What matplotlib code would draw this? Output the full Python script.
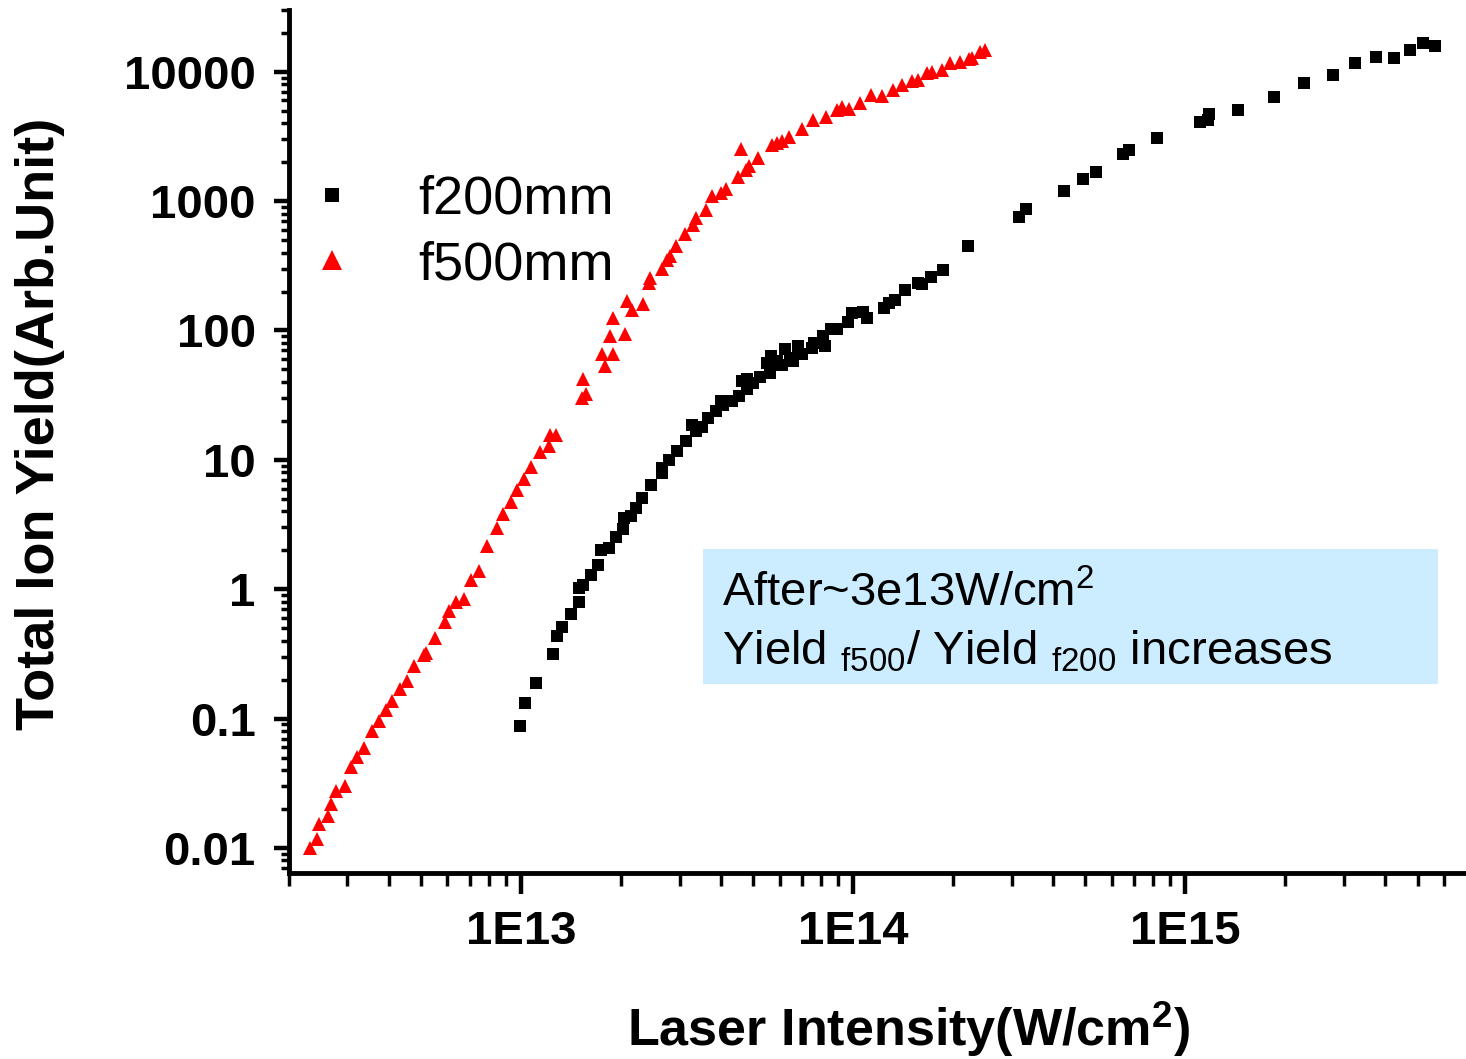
import matplotlib
matplotlib.use('Agg')
import matplotlib.pyplot as plt
from matplotlib.ticker import LogLocator, FixedLocator, FuncFormatter, NullFormatter
from matplotlib.lines import Line2D
from matplotlib.patches import Rectangle
import numpy as np

plt.rcParams['font.family'] = ['Liberation Sans', 'DejaVu Sans']
plt.rcParams['mathtext.fontset'] = 'custom'
plt.rcParams['mathtext.rm'] = 'Liberation Sans'
plt.rcParams['mathtext.bf'] = 'Liberation Sans:bold'
plt.rcParams['mathtext.it'] = 'Liberation Sans:italic'

# f500mm focus (red triangles), intensity in W/cm^2
f500_intensity = [2.31e12, 2.43e12, 2.47e12, 2.62e12, 2.67e12, 2.78e12, 2.94e12, 3.08e12, 3.20e12, 3.36e12,
                  3.56e12, 3.72e12, 3.92e12, 4.08e12, 4.31e12, 4.52e12, 4.77e12, 5.11e12, 5.17e12, 5.51e12,
                  5.90e12, 6.07e12, 6.36e12, 6.74e12, 7.06e12, 7.48e12, 7.89e12, 8.45e12, 8.83e12, 9.31e12,
                  9.71e12, 1.02e13, 1.07e13, 1.14e13, 1.21e13, 1.22e13, 1.27e13, 1.52e13, 1.57e13, 1.54e13,
                  1.79e13, 1.75e13, 1.89e13, 1.85e13, 2.06e13, 1.89e13, 2.09e13, 2.15e13, 2.32e13, 2.44e13,
                  2.43e13, 2.66e13, 2.75e13, 2.80e13, 2.92e13, 3.11e13, 3.29e13, 3.35e13, 3.59e13, 3.75e13,
                  3.99e13, 4.15e13, 4.49e13, 4.60e13, 4.74e13, 4.87e13, 5.16e13, 5.70e13, 5.90e13, 6.11e13,
                  6.40e13, 7.02e13, 7.55e13, 8.28e13, 8.94e13, 9.26e13, 9.74e13, 1.05e14, 1.13e14, 1.22e14,
                  1.32e14, 1.40e14, 1.50e14, 1.57e14, 1.67e14, 1.73e14, 1.85e14, 1.96e14, 2.10e14, 2.23e14,
                  2.28e14, 2.41e14, 2.50e14]
f500_yield = [0.0100, 0.0118, 0.0153, 0.0176, 0.0219, 0.0277, 0.0300, 0.0420, 0.0501, 0.0589,
              0.0805, 0.0962, 0.117, 0.137, 0.169, 0.196, 0.253, 0.309, 0.324, 0.416,
              0.559, 0.679, 0.798, 0.847, 1.18, 1.38, 2.16, 2.99, 3.79, 4.75,
              5.81, 7.07, 8.80, 11.4, 12.8, 15.5, 15.5, 30.2, 32.1, 42.4,
              53.0, 65.3, 65.3, 90.3, 94.4, 124, 168, 145, 159, 255,
              233, 296, 353, 375, 448, 561, 659, 741, 859, 1103,
              1157, 1249, 1538, 2530, 1751, 1857, 2156, 2731, 2814, 2896,
              3132, 3629, 4260, 4437, 5088, 5338, 5179, 5731, 6561, 6446,
              7261, 7938, 8415, 8566, 9772, 9876, 10362, 11670, 11881, 12535,
              12757, 14093, 14603]

# f200mm focus (black squares)
f200_intensity = [9.91e12, 1.03e13, 1.11e13, 1.25e13, 1.28e13, 1.33e13, 1.41e13, 1.49e13, 1.49e13, 1.54e13,
                  1.62e13, 1.70e13, 1.74e13, 1.84e13, 1.93e13, 2.02e13, 2.04e13, 2.14e13, 2.21e13, 2.31e13,
                  2.46e13, 2.65e13, 2.66e13, 2.79e13, 2.95e13, 3.14e13, 3.28e13, 3.37e13, 3.50e13, 3.66e13,
                  3.85e13, 3.99e13, 4.05e13, 4.32e13, 4.53e13, 4.63e13, 4.79e13, 4.79e13, 4.99e13, 5.22e13,
                  5.51e13, 5.64e13, 5.60e13, 5.90e13, 6.11e13, 6.25e13, 6.47e13, 6.58e13, 6.82e13, 7.02e13,
                  7.52e13, 7.61e13, 8.09e13, 8.21e13, 8.54e13, 8.94e13, 9.65e13, 9.92e13, 1.07e14, 1.10e14,
                  1.24e14, 1.28e14, 1.34e14, 1.43e14, 1.57e14, 1.61e14, 1.71e14, 1.86e14, 2.21e14, 3.16e14,
                  3.32e14, 4.30e14, 4.91e14, 5.37e14, 6.51e14, 6.77e14, 8.24e14, 1.11e15, 1.18e15, 1.17e15,
                  1.44e15, 1.85e15, 2.28e15, 2.79e15, 3.24e15, 3.76e15, 4.25e15, 4.76e15, 5.20e15, 5.64e15]
f200_yield = [0.0871, 0.133, 0.188, 0.313, 0.431, 0.506, 0.641, 0.798, 1.03, 1.07,
              1.29, 1.53, 2.01, 2.10, 2.51, 2.94, 3.58, 3.68, 4.27, 5.11,
              6.38, 7.96, 8.71, 9.96, 11.6, 14.0, 18.5, 16.7, 18.0, 21.2,
              23.8, 28.4, 26.4, 28.4, 31.1, 40.6, 41.9, 35.0, 39.5, 43.9,
              56.3, 63.4, 47.1, 57.9, 53.7, 71.3, 61.5, 57.9, 75.6, 65.3,
              73.5, 80.4, 90.3, 75.6, 102, 103, 116, 137, 138, 125,
              150, 162, 171, 205, 233, 227, 258, 291, 453, 755,
              871, 1205, 1484, 1669, 2327, 2498, 3076, 4060, 4740, 4206,
              5088, 6377, 8178, 9480, 11670, 12987, 12827, 14786, 16656, 15680]

series_labels = ['f200mm', 'f500mm']
x_major = [1e13, 1e14, 1e15]
y_major = [0.01, 0.1, 1, 10, 100, 1000, 10000]

W, H = 1466, 1059
fig = plt.figure(figsize=(W / 100, H / 100), dpi=100)
ax = fig.add_axes([289 / W, 1 - 873 / H, (1464 - 289) / W, (873 - 10) / H])

ax.plot(f200_intensity, f200_yield, ls='none', marker='s', ms=8.3, mew=0, color='black', clip_on=False)
ax.plot(f500_intensity, f500_yield, ls='none', marker='^', ms=10.3, mew=0, color='red', clip_on=False)

ax.set_xscale('log')
ax.set_yscale('log')
ax.set_xlim(2e12, 6.9e15)
ax.set_ylim(0.0064, 3e4)

for s in ['top', 'right']:
    ax.spines[s].set_visible(False)
for s in ['left', 'bottom']:
    ax.spines[s].set_linewidth(3.5)

ax.xaxis.set_major_locator(FixedLocator(x_major))
ax.xaxis.set_minor_locator(LogLocator(base=10, subs=np.arange(2, 10), numticks=20))
ax.yaxis.set_major_locator(FixedLocator(y_major))
ax.yaxis.set_minor_locator(LogLocator(base=10, subs=np.arange(2, 10), numticks=20))
ax.xaxis.set_major_formatter(FuncFormatter(lambda v, p: '1E%d' % round(np.log10(v))))
ax.yaxis.set_major_formatter(FuncFormatter(lambda v, p: '%g' % v))
ax.xaxis.set_minor_formatter(NullFormatter())
ax.yaxis.set_minor_formatter(NullFormatter())

ax.tick_params(axis='x', which='major', direction='out', length=15, width=3.2, pad=12,
               labelsize=34)
ax.tick_params(axis='x', which='minor', direction='out', length=9, width=2.5)
ax.tick_params(axis='y', which='major', direction='out', length=11, width=3.2, pad=13,
               labelsize=34)
ax.tick_params(axis='y', which='minor', direction='out', length=6, width=2.5)
for lab in ax.get_xticklabels() + ax.get_yticklabels():
    lab.set_fontweight('bold')

fig.text(909 / W, 1 - 1046 / H, r'Laser Intensity(W/cm$^{\mathbf{2}}$)', ha='center', va='baseline',
         fontsize=37.5, fontweight='bold')
fig.text(40 / W, 1 - 424 / H, 'Total Ion Yield(Arb.Unit)', ha='center', va='center', rotation=90,
         fontsize=39, fontweight='bold')

handles = [Line2D([], [], ls='none', marker='s', ms=9.4, mew=0, color='black'),
           Line2D([], [], ls='none', marker='^', ms=13.7, mew=0, color='red')]
ax.legend(handles, series_labels, loc='center left', bbox_to_anchor=(316 / W, 1 - 232.5 / H),
          bbox_transform=fig.transFigure, frameon=False, fontsize=39, handlelength=0.6,
          handletextpad=1.28, labelspacing=0.28, borderpad=0, borderaxespad=0)

box = Rectangle((703 / W, 1 - 684 / H), (1438 - 703) / W, (684 - 549) / H, transform=fig.transFigure,
                facecolor='#CCECFF', edgecolor='none')
fig.add_artist(box)
fig.text(722 / W, 1 - 606 / H, r'After~3e13W/cm$^2$', ha='left', va='baseline', fontsize=34)
fig.text(722 / W, 1 - 664 / H, r'Yield $_{\mathrm{f500}}$/ Yield $_{\mathrm{f200}}$ increases',
         ha='left', va='baseline', fontsize=34)

fig.savefig('out.png', dpi=100)
